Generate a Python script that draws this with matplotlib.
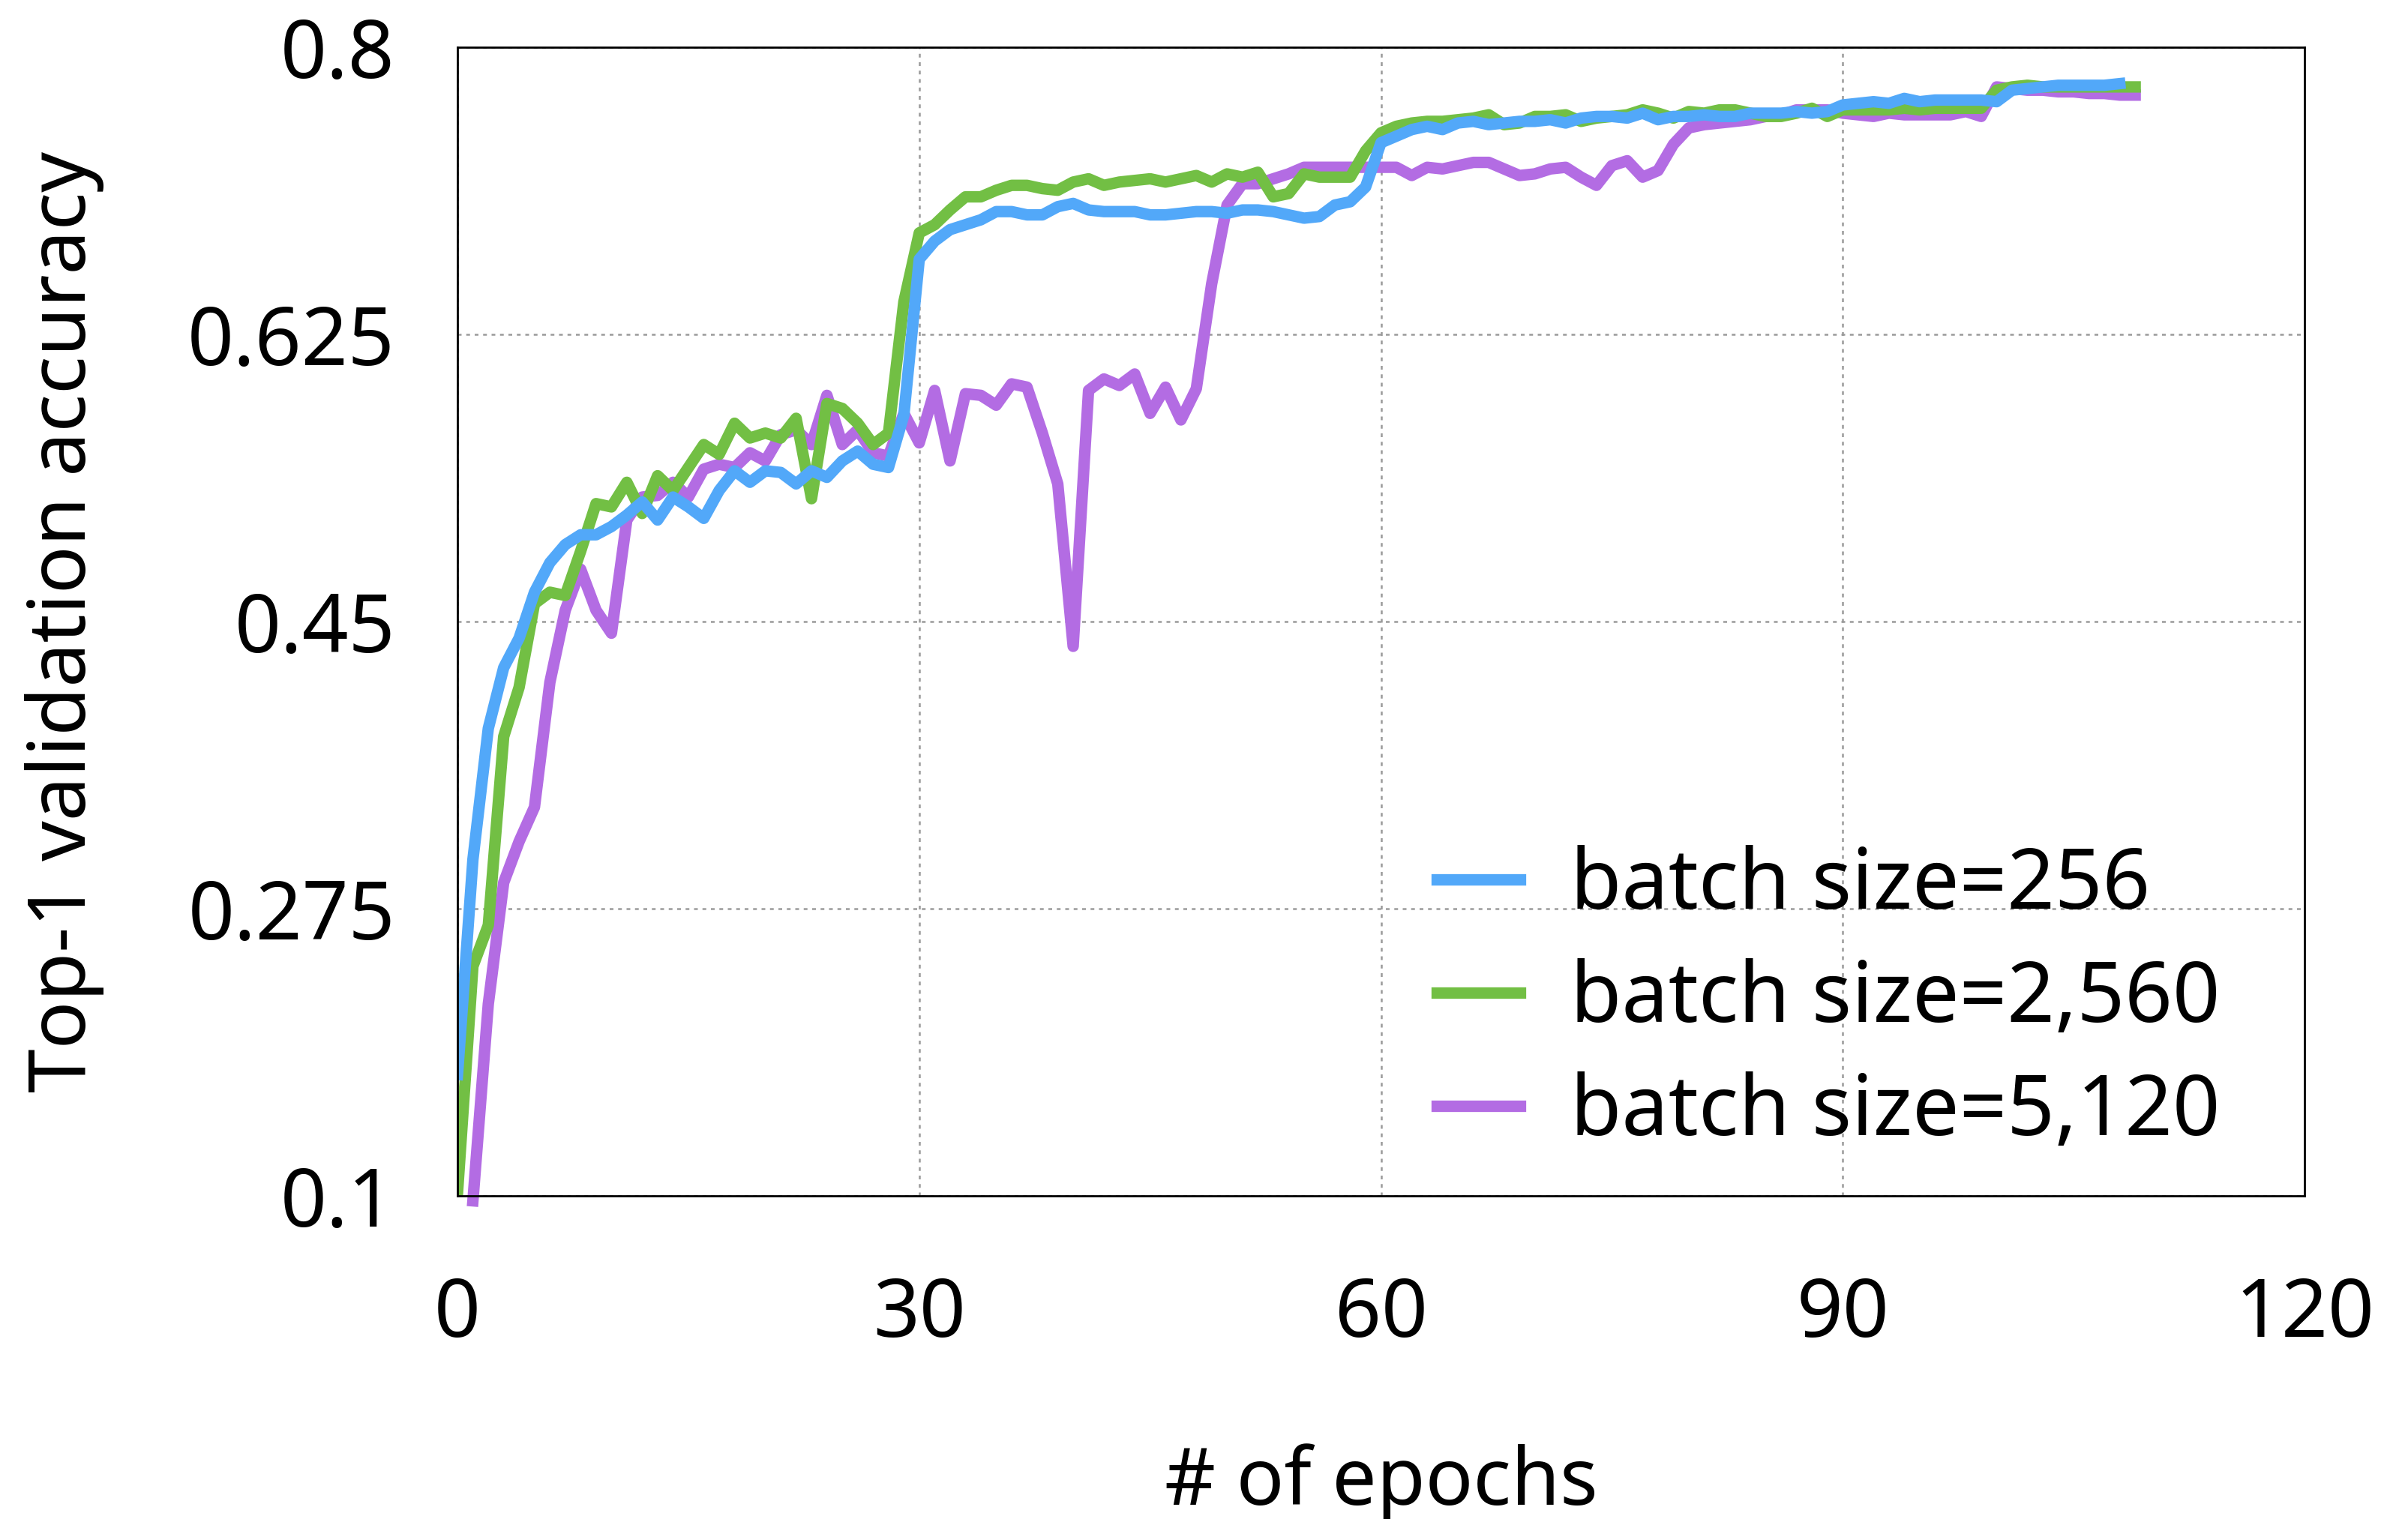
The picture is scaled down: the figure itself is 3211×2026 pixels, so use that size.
import matplotlib
matplotlib.use("Agg")
import matplotlib.pyplot as plt
import numpy as np

plt.rcParams['font.family'] = ['Noto Sans', 'DejaVu Sans']

# top-1 accuracy per epoch
acc_256 = [0.174, 0.305, 0.385, 0.422, 0.440, 0.468, 0.486, 0.497, 0.503, 0.503,
           0.508, 0.515, 0.523, 0.512, 0.526, 0.520, 0.513, 0.530, 0.542, 0.535,
           0.542, 0.541, 0.534, 0.542, 0.538, 0.548, 0.554, 0.546, 0.544, 0.576,
           0.671, 0.682, 0.689, 0.692, 0.695, 0.700, 0.700, 0.698, 0.698, 0.703,
           0.705, 0.701, 0.700, 0.700, 0.700, 0.698, 0.698, 0.699, 0.700, 0.700,
           0.699, 0.701, 0.701, 0.700, 0.698, 0.696, 0.697, 0.704, 0.706, 0.715,
           0.742, 0.746, 0.750, 0.752, 0.750, 0.754, 0.755, 0.753, 0.754, 0.755,
           0.755, 0.756, 0.754, 0.757, 0.758, 0.758, 0.757, 0.760, 0.756, 0.758,
           0.758, 0.759, 0.758, 0.758, 0.760, 0.760, 0.760, 0.761, 0.760, 0.761,
           0.765, 0.766, 0.767, 0.766, 0.769, 0.767, 0.768, 0.768, 0.768, 0.768,
           0.767, 0.774, 0.775, 0.776, 0.777, 0.777, 0.777, 0.777, 0.778]
acc_2560 = [0.102, 0.240, 0.265, 0.380, 0.410, 0.461, 0.468, 0.466, 0.493, 0.522,
            0.520, 0.535, 0.516, 0.539, 0.530, 0.544, 0.558, 0.552, 0.571, 0.562,
            0.565, 0.562, 0.574, 0.525, 0.583, 0.580, 0.571, 0.558, 0.565, 0.645,
            0.687, 0.692, 0.701, 0.709, 0.709, 0.713, 0.716, 0.716, 0.714, 0.713,
            0.718, 0.720, 0.716, 0.718, 0.719, 0.720, 0.718, 0.720, 0.722, 0.718,
            0.723, 0.721, 0.724, 0.709, 0.711, 0.723, 0.721, 0.721, 0.721, 0.737,
            0.748, 0.752, 0.754, 0.755, 0.755, 0.756, 0.757, 0.759, 0.753, 0.754,
            0.758, 0.758, 0.759, 0.755, 0.757, 0.758, 0.759, 0.762, 0.760, 0.757,
            0.761, 0.760, 0.762, 0.762, 0.760, 0.758, 0.758, 0.760, 0.763, 0.758,
            0.762, 0.762, 0.762, 0.762, 0.763, 0.762, 0.763, 0.763, 0.763, 0.763,
            0.774, 0.776, 0.777, 0.776, 0.776, 0.776, 0.776, 0.776, 0.776, 0.776]
acc_5120 = [0.097, 0.217, 0.291, 0.316, 0.337, 0.413, 0.457, 0.482, 0.457,
            0.443, 0.512, 0.526, 0.527, 0.535, 0.526, 0.543, 0.546, 0.544, 0.553,
            0.548, 0.564, 0.567, 0.558, 0.588, 0.558, 0.567, 0.553, 0.551, 0.577,
            0.559, 0.591, 0.548, 0.589, 0.588, 0.582, 0.595, 0.593, 0.565, 0.534,
            0.435, 0.591, 0.598, 0.594, 0.601, 0.577, 0.593, 0.573, 0.592, 0.656,
            0.704, 0.717, 0.717, 0.720, 0.723, 0.727, 0.727, 0.727, 0.727, 0.727,
            0.727, 0.727, 0.722, 0.727, 0.726, 0.728, 0.730, 0.730, 0.726, 0.722,
            0.723, 0.726, 0.727, 0.721, 0.716, 0.728, 0.731, 0.721, 0.725, 0.741,
            0.751, 0.753, 0.754, 0.755, 0.756, 0.758, 0.759, 0.762, 0.762, 0.762,
            0.760, 0.759, 0.758, 0.760, 0.759, 0.759, 0.759, 0.759, 0.761, 0.758,
            0.776, 0.775, 0.774, 0.774, 0.773, 0.773, 0.772, 0.772, 0.771, 0.771]
first_epoch_5120 = 1

labels = ['batch size=256', 'batch size=2,560', 'batch size=5,120']
colors = ['#52a8f9', '#72bf44', '#b36ce3']
x_ticks = [0, 30, 60, 90, 120]
y_ticks = [0.1, 0.275, 0.45, 0.625, 0.8]

fig = plt.figure(figsize=(16.055, 10.13), dpi=200)
ax = fig.add_axes([0.19, 0.2127, 0.767, 0.756])

lw = 5.5
# purple underneath, blue on top
l3, = ax.plot(np.arange(len(acc_5120)) + first_epoch_5120, acc_5120,
              color=colors[2], lw=lw, clip_on=False, label=labels[2])
l2, = ax.plot(np.arange(len(acc_2560)), acc_2560, color=colors[1], lw=lw, label=labels[1])
l1, = ax.plot(np.arange(len(acc_256)), acc_256, color=colors[0], lw=lw, label=labels[0])

ax.set_xlim(0, 120)
ax.set_ylim(0.1, 0.8)
ax.set_xticks(x_ticks)
ax.set_xticklabels([str(t) for t in x_ticks])
ax.set_yticks(y_ticks)
ax.set_yticklabels(['0.1', '0.275', '0.45', '0.625', '0.8'])
ax.tick_params(axis='both', length=0, labelsize=39)
ax.tick_params(axis='x', pad=38)
ax.tick_params(axis='y', pad=30)

ax.grid(True, color='#9a9a9a', lw=0.9, linestyle=(0, (2, 2.5)))
for sp in ax.spines.values():
    sp.set_linewidth(1.0)
    sp.set_color('black')

ax.set_xlabel('# of epochs', fontsize=38, labelpad=42)
ax.set_ylabel('Top-1 validation accuracy', fontsize=38, labelpad=40)

ax.legend(handles=[l1, l2, l3], loc='lower right', frameon=False, fontsize=40,
          handlelength=1.0, handletextpad=0.6, labelspacing=0.35,
          bbox_to_anchor=(0.995, -0.03))

fig.savefig('out.png', dpi=200)
